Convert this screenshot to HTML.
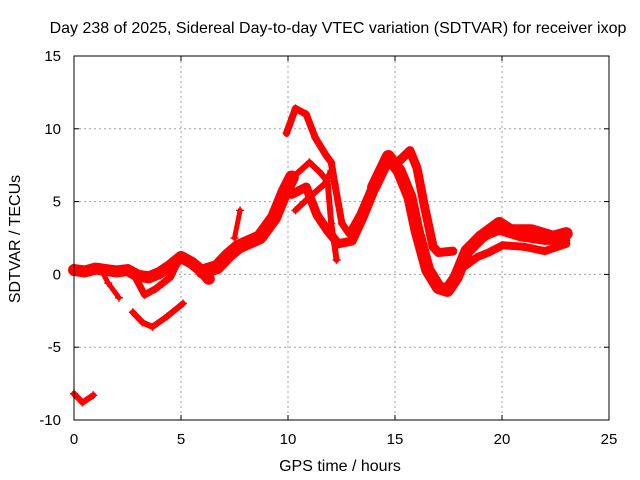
<!DOCTYPE html>
<html><head><meta charset="utf-8"><style>
body{margin:0;background:#fff}
svg{display:block;font-family:"Liberation Sans",sans-serif}
</style></head><body>
<svg id="chart" width="640" height="480">
<text x="338" y="33" font-size="16" text-anchor="middle">Day 238 of 2025, Sidereal Day-to-day VTEC variation (SDTVAR) for receiver ixop</text>
<text x="340" y="471" font-size="16" text-anchor="middle">GPS time / hours</text>
<text transform="translate(20,239) rotate(-90)" font-size="16" text-anchor="middle">SDTVAR / TECUs</text>
<g id="grid"></g><g id="marks"></g>
<rect x="74" y="56" width="535" height="364" fill="none" stroke="#000" stroke-width="1"/>
</svg>
<script>
const xTicks=[0,5,10,15,20,25];
const yTicks=[-10,-5,0,5,10,15];
const trackBase=[[0,0.3],[0.5,0.2],[1,0.4],[1.5,0.3],[2,0.2],[2.5,0.3],[3,-0.1],[3.5,-0.2],[4,0.1],[4.5,0.6],[5,1.2],[5.5,0.8],[6,0.2],[6.3,-0.3]];
const trackDip1=[[1.2,0.5],[1.6,-0.6],[2.1,-1.6]];
const trackDip2=[[2.9,-0.3],[3.3,-1.4],[3.8,-1.0],[4.5,-0.2],[5,1.3]];
const trackLow3=[[2.75,-2.6],[3.2,-3.3],[3.67,-3.6],[4.34,-2.9],[5.09,-2.0]];
const trackLow8=[[0,-8.2],[0.4,-8.8],[0.9,-8.3]];
const trackRise=[[6,0.2],[6.68,0.5],[7.2,1.3],[7.68,1.9],[8.68,2.55],[9.35,3.9],[9.85,5.7],[10.18,6.65]];
const trackSpikeEarly=[[7.5,2.5],[7.76,4.4]];
const trackHigh=[[9.93,9.7],[10.35,11.4],[10.85,11.0],[11.27,9.4],[11.77,8.2],[12.02,7.7],[12.19,6.2],[12.52,3.5],[12.85,2.8],[13.35,4.1],[14.02,6.4],[14.69,8.1]];
const trackUpper=[[10.18,6.6],[11.0,7.7],[11.43,7.1],[11.85,6.4],[12.02,3.5],[12.27,1.0]];
const trackCross=[[10.35,4.4],[11.0,5.3],[11.7,6.2],[12.02,7.1]];
const trackMid=[[10.18,5.5],[10.85,6.0],[11.35,4.1],[11.85,3.0],[12.35,2.1],[13.0,2.3],[13.5,3.9],[14.0,5.7],[14.69,8.0]];
const trackPeak=[[14.0,6.0],[14.69,8.1],[15.2,7.1],[15.7,5.3],[16.03,3.0],[16.53,0.3],[17.03,-0.9],[17.45,-1.1],[17.86,-0.2],[18.36,1.6],[19.0,2.55],[19.87,3.5],[20.4,3.0],[21.37,3.0],[22.38,2.55],[23.0,2.8]];
const trackPeak2=[[15.2,7.8],[15.7,8.5],[16.03,7.3],[16.36,4.8],[16.78,1.9],[17.03,1.5],[17.7,1.6]];
const trackLate1=[[18.2,0.5],[18.86,1.2],[19.37,1.5],[20.03,2.0],[21.03,1.9],[22.0,1.6],[23.0,2.1]];
const trackLate2=[[18.7,2.3],[19.87,3.0],[20.87,2.55],[22.0,2.3],[23.0,2.3]];
const series=[["track-base",trackBase,12],["track-dip-1",trackDip1,5],["track-dip-2",trackDip2,7],["track-low-3",trackLow3,6],["track-low-8",trackLow8,6],["track-rise",trackRise,14],["track-spike-early",trackSpikeEarly,5],["track-high",trackHigh,7],["track-upper",trackUpper,6],["track-cross",trackCross,6],["track-mid",trackMid,9],["track-peak",trackPeak,13],["track-peak-2",trackPeak2,9],["track-late-1",trackLate1,8],["track-late-2",trackLate2,8]];
const X0=74,X1=609,Y0=420,Y1=56;
const sx=v=>X0+(v-0)/25*(X1-X0);
const sy=v=>Y0-(v+10)/25*(Y0-Y1);
const NS="http://www.w3.org/2000/svg";
const grid=document.getElementById('grid'),marks=document.getElementById('marks');
function mk(t,a,p){const e=document.createElementNS(NS,t);for(const k in a)e.setAttribute(k,a[k]);p.appendChild(e);return e;}
xTicks.forEach(t=>{const x=sx(t);
 if(t>0&&t<25){const g=mk('line',{x1:x,x2:x,y1:Y1,y2:Y0,stroke:'#a0a0a0','stroke-dasharray':'2,3'},grid);
 
 }
 const tl=mk('text',{x:x,y:Y0+24,'font-size':15,'text-anchor':'middle'},grid);tl.textContent=t;
 
 
 mk('line',{x1:x,x2:x,y1:Y0,y2:Y0-5,stroke:'#000'},grid);mk('line',{x1:x,x2:x,y1:Y1,y2:Y1+5,stroke:'#000'},grid);});
yTicks.forEach(t=>{const y=sy(t);
 if(t>-10&&t<15){const g=mk('line',{x1:X0,x2:X1,y1:y,y2:y,stroke:'#a0a0a0','stroke-dasharray':'2,3'},grid);
 
 }
 const tl=mk('text',{x:X0-13,y:y+5,'font-size':15,'text-anchor':'end'},grid);tl.textContent=t;
 
 
 mk('line',{x1:X0,x2:X0+5,y1:y,y2:y,stroke:'#000'},grid);mk('line',{x1:X1,x2:X1-5,y1:y,y2:y,stroke:'#000'},grid);});
series.forEach(([name,pts,w])=>{
 const g=mk('g',{},marks);
 
 
 mk('polyline',{points:pts.map(p=>sx(p[0])+','+sy(p[1])).join(' '),fill:'none',stroke:'#ff0000','stroke-width':w,'stroke-linejoin':'round','stroke-linecap':'round'},g);
 pts.forEach(p=>{const x=sx(p[0]),y=sy(p[1]);
  mk('path',{d:`M${x-4},${y}h8M${x},${y-4}v8`,stroke:'#ff0000','stroke-width':1.5},g);});
});
</script>
</body></html>
